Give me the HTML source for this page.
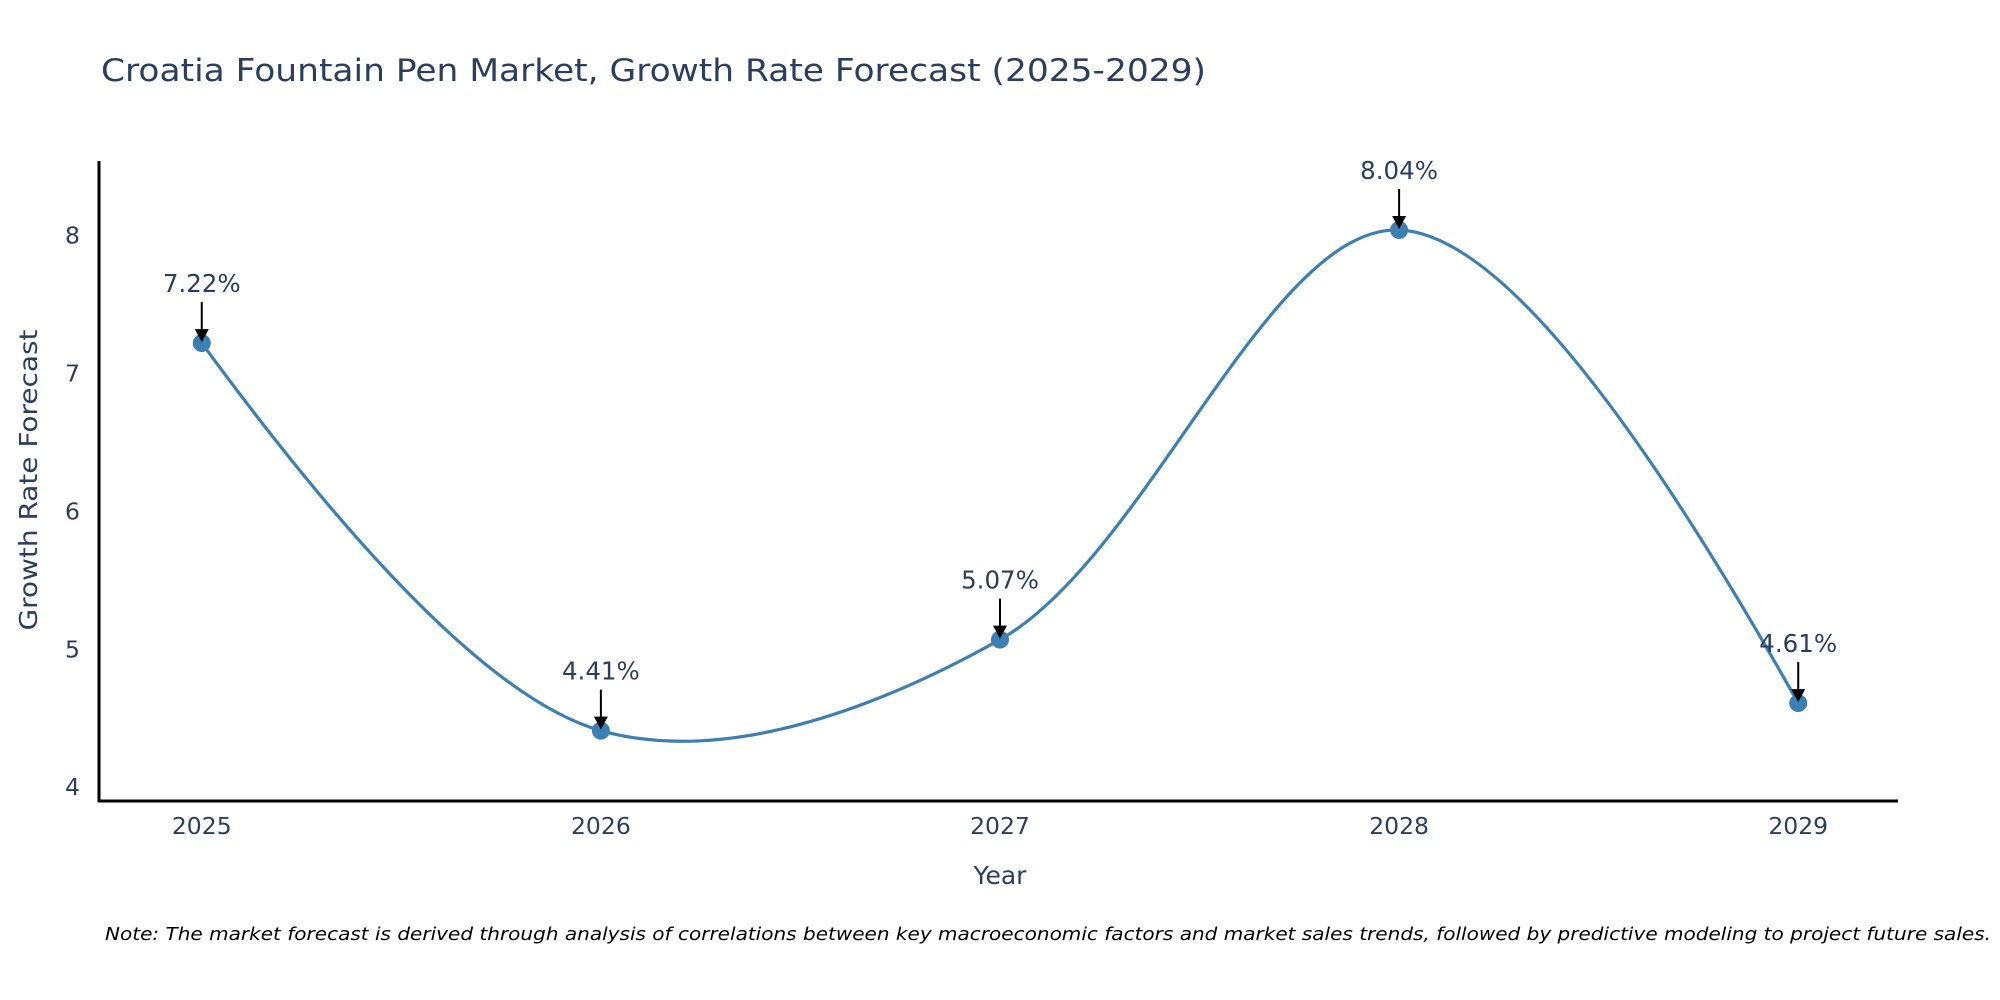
<!DOCTYPE html>
<html><head><meta charset="utf-8"><style>
html,body{margin:0;padding:0;background:#fff;}
svg{display:block;font-family:"DejaVu Sans","Liberation Sans",sans-serif;}
</style></head><body>
<svg id="chart" width="2000" height="1000" viewBox="0 0 2000 1000" xmlns="http://www.w3.org/2000/svg">
<text x="101" y="81" font-size="31" fill="#2a3f5f" textLength="1105" lengthAdjust="spacingAndGlyphs">Croatia Fountain Pen Market, Growth Rate Forecast (2025-2029)</text>
<g id="yticks"></g>
<g id="xticks"></g>
<line x1="99" y1="161" x2="99" y2="802" stroke="#000" stroke-width="3"/>
<line x1="98" y1="801" x2="1898" y2="801" stroke="#000" stroke-width="3"/>
<path id="series" fill="none" stroke="#3c80b3" stroke-width="3.2"/>
<g id="points"></g>
<g id="annots"></g>
<text transform="translate(37,480) rotate(-90)" text-anchor="middle" font-size="25" fill="#2a3f5f" textLength="301" lengthAdjust="spacingAndGlyphs">Growth Rate Forecast</text>
<text x="1000" y="884" text-anchor="middle" font-size="25" fill="#2a3f5f">Year</text>
<text x="105" y="940" font-size="18" font-style="italic" fill="#000" textLength="1886" lengthAdjust="spacingAndGlyphs">Note: The market forecast is derived through analysis of correlations between key macroeconomic factors and market sales trends, followed by predictive modeling to project future sales.</text>
</svg>
<script>
const years = [2025, 2026, 2027, 2028, 2029];
const values = [7.22, 4.41, 5.07, 8.04, 4.61];
const labels = ["7.22%", "4.41%", "5.07%", "8.04%", "4.61%"];
const yTickValues = [4, 5, 6, 7, 8];
const xTickValues = [2025, 2026, 2027, 2028, 2029];

const NS = "http://www.w3.org/2000/svg";
const X0 = 2024.74, X1 = 2029.25, PX0 = 98, PX1 = 1898;
const Y0 = 3.9, Y1 = 8.54, PY0 = 801, PY1 = 161;
function xs(v){return PX0 + (v - X0) / (X1 - X0) * (PX1 - PX0);}
function ys(v){return PY0 - (v - Y0) / (Y1 - Y0) * (PY0 - PY1);}
function mk(tag, attrs, parent){const e=document.createElementNS(NS,tag);for(const k in attrs)e.setAttribute(k,attrs[k]);parent.appendChild(e);return e;}

const yt = document.getElementById('yticks');
yTickValues.forEach(v=>{
  const t = mk('text',{x:80,y:ys(v)+8,'text-anchor':'end','font-size':23.5,fill:'#2a3f5f'},yt);
  
  
  t.textContent = v;
});
const xt = document.getElementById('xticks');
xTickValues.forEach(v=>{
  const t = mk('text',{x:xs(v),y:834,'text-anchor':'middle','font-size':23.5,fill:'#2a3f5f'},xt);
  
  
  t.textContent = v;
});

const pts = years.map((y,i)=>[xs(y), ys(values[i])]);
function tangent(p, c, n, s){
  const d1x=p[0]-c[0], d1y=p[1]-c[1], d2x=n[0]-c[0], d2y=n[1]-c[1];
  const d1a=Math.pow(d1x*d1x+d1y*d1y,0.25), d2a=Math.pow(d2x*d2x+d2y*d2y,0.25);
  const numx=(d2a*d2a*d1x-d1a*d1a*d2x)*s, numy=(d2a*d2a*d1y-d1a*d1a*d2y)*s;
  const den1=3*d2a*(d1a+d2a), den2=3*d1a*(d1a+d2a);
  return [[c[0]+numx/den1, c[1]+numy/den1],[c[0]-numx/den2, c[1]-numy/den2]];
}
const tg=[];
for(let i=1;i<pts.length-1;i++) tg.push(tangent(pts[i-1],pts[i],pts[i+1],1));
const f=p=>p[0].toFixed(2)+','+p[1].toFixed(2);
let d='M'+f(pts[0])+'Q'+f(tg[0][0])+' '+f(pts[1]);
for(let i=2;i<pts.length-1;i++) d+='C'+f(tg[i-2][1])+' '+f(tg[i-1][0])+' '+f(pts[i]);
d+='Q'+f(tg[pts.length-3][1])+' '+f(pts[pts.length-1]);
document.getElementById('series').setAttribute('d',d);

const pg=document.getElementById('points');
const ag=document.getElementById('annots');
pts.forEach((p,i)=>{
  const c=mk('circle',{cx:p[0],cy:p[1],r:9,fill:'#3c80b3'},pg);
  
  
  const l=mk('line',{x1:p[0],y1:p[1]-41,x2:p[0],y2:p[1]-12,stroke:'#000','stroke-width':2},ag);
  
  
  const h=mk('polygon',{points:`${p[0]-7},${p[1]-14} ${p[0]+7},${p[1]-14} ${p[0]},${p[1]-1}`,fill:'#000'},ag);
  
  
  const t=mk('text',{x:p[0],y:p[1]-51,'text-anchor':'middle','font-size':24.5,fill:'#2a3f5f'},ag);
  
  
  t.textContent=labels[i];
});
</script>
</body></html>
